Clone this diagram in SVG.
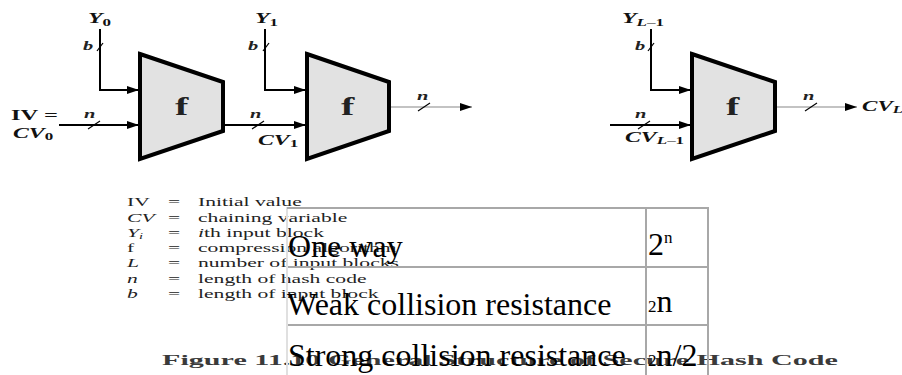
<svg xmlns="http://www.w3.org/2000/svg" width="902" height="375" viewBox="0 0 902 375">
<style>
  .blk { fill: #e2e2e2; stroke: #000; stroke-width: 4; stroke-linejoin: miter; }
  .wire { fill: none; stroke: #000; stroke-width: 2; }
  .wire-out { fill: none; stroke: #888; stroke-width: 1.2; }
  .tick { stroke: #000; stroke-width: 1.2; }
  .lbl { font-family: "Liberation Serif", serif; font-weight: bold; font-style: italic; font-size: 14px; fill: #111; }
  .up { font-style: normal; }
  .fl { font-family: "Liberation Serif", serif; font-weight: bold; font-size: 25px; fill: #222; }
  .sm { font-size: 10px; }
  .nb { font-family: "Liberation Serif", serif; font-weight: bold; font-style: italic; font-size: 12px; fill: #222; }
  .leg { font-family: "Liberation Serif", serif; font-size: 12px; fill: #222; }
  .it { font-style: italic; }
  .cap { font-family: "Liberation Serif", serif; font-weight: bold; font-size: 15px; fill: #3a3a3a; }
  .tb { font-family: "Liberation Serif", serif; font-size: 32px; fill: #000; }
  .tline { stroke: #a8a8a8; stroke-width: 2; fill: none; }
</style>
<defs>
  <marker id="ah" markerUnits="userSpaceOnUse" markerWidth="12" markerHeight="8" refX="12" refY="4" orient="auto">
    <path d="M0,0 L12,4 L0,8 z" fill="#000"/>
  </marker>
</defs>

<g id="connectors">
  <path class="wire" d="M100,29 V90 H139" marker-end="url(#ah)"/>
  <path class="wire" d="M59,125 H139" marker-end="url(#ah)"/>
  <path class="wire" d="M223,125 H306" marker-end="url(#ah)"/>
  <path class="wire" d="M265,29 V90 H306" marker-end="url(#ah)"/>
  <path class="wire-out" d="M389,107 H472" marker-end="url(#ah)"/>
  <path class="wire" d="M651,29 V90 H691" marker-end="url(#ah)"/>
  <path class="wire" d="M610,125 H691" marker-end="url(#ah)"/>
  <path class="wire-out" d="M775,107 H857" marker-end="url(#ah)"/>
  <line class="tick" x1="97" y1="51" x2="103" y2="43"/>
  <line class="tick" x1="263" y1="51" x2="269" y2="43"/>
  <line class="tick" x1="648" y1="51" x2="654" y2="43"/>
  <line class="tick" x1="88" y1="129" x2="100" y2="121"/>
  <line class="tick" x1="252" y1="129" x2="264" y2="121"/>
  <line class="tick" x1="418" y1="111" x2="430" y2="103"/>
  <line class="tick" x1="638" y1="129" x2="650" y2="121"/>
  <line class="tick" x1="805" y1="111" x2="817" y2="103"/>
  <text class="nb" transform="translate(83 50) scale(1.7 1)">b</text>
  <text class="nb" transform="translate(248 50) scale(1.7 1)">b</text>
  <text class="nb" transform="translate(635 50) scale(1.7 1)">b</text>
  <text class="nb" transform="translate(84 118) scale(1.7 1)">n</text>
  <text class="nb" transform="translate(250 118) scale(1.7 1)">n</text>
  <text class="nb" transform="translate(417 100) scale(1.7 1)">n</text>
  <text class="nb" transform="translate(635 118) scale(1.7 1)">n</text>
  <text class="nb" transform="translate(803 100) scale(1.7 1)">n</text>
</g>

<g id="input-Y0">
  <text class="lbl" transform="translate(88 23) scale(1.7 1)">Y<tspan class="sm up" dy="3">0</tspan></text>
</g>
<g id="input-Y1">
  <text class="lbl" transform="translate(255 23) scale(1.7 1)">Y<tspan class="sm up" dy="3">1</tspan></text>
</g>
<g id="input-YL1">
  <text class="lbl" transform="translate(622 23) scale(1.7 1)">Y<tspan class="sm" dy="3">L</tspan><tspan class="sm up">–1</tspan></text>
</g>
<g id="iv">
  <text class="lbl up" font-size="12.5" transform="translate(11 120) scale(1.75 1)">IV =</text>
  <text class="lbl" transform="translate(13 138) scale(1.7 1)">CV<tspan class="sm up" dy="2">0</tspan></text>
</g>

<g id="f1">
  <polygon class="blk" points="140,54 223,82 223,131 140,159"/>
  <text class="fl" transform="translate(175 115) scale(1.6 1)">f</text>
</g>
<g id="cv1">
  <text class="lbl" transform="translate(258 145) scale(1.7 1)">CV<tspan class="sm up" dy="2">1</tspan></text>
</g>
<g id="f2">
  <polygon class="blk" points="307,54 389,82 389,131 307,159"/>
  <text class="fl" transform="translate(341 115) scale(1.6 1)">f</text>
</g>
<g id="cvl1">
  <text class="lbl" transform="translate(625 142) scale(1.7 1)">CV<tspan class="sm" dy="2">L</tspan><tspan class="sm up">–1</tspan></text>
</g>
<g id="f3">
  <polygon class="blk" points="692,54 775,82 775,131 692,159"/>
  <text class="fl" transform="translate(726 115) scale(1.6 1)">f</text>
</g>
<g id="cvl">
  <text class="lbl" transform="translate(862 111) scale(1.65 1)">CV<tspan class="sm" dy="2">L</tspan></text>
</g>

<g id="legend">
  <text class="leg" transform="translate(127 206) scale(1.8 1)">IV</text>
  <text class="leg it" transform="translate(127 222) scale(1.8 1)">CV</text>
  <text class="leg it" transform="translate(127 237) scale(1.8 1)">Y<tspan font-size="8" dy="2">i</tspan></text>
  <text class="leg" transform="translate(127 252) scale(1.8 1)">f</text>
  <text class="leg it" transform="translate(127 267) scale(1.8 1)">L</text>
  <text class="leg it" transform="translate(127 283) scale(1.8 1)">n</text>
  <text class="leg it" transform="translate(127 298) scale(1.8 1)">b</text>
  <text class="leg" transform="translate(168 206) scale(1.8 1)">=</text>
  <text class="leg" transform="translate(168 222) scale(1.8 1)">=</text>
  <text class="leg" transform="translate(168 237) scale(1.8 1)">=</text>
  <text class="leg" transform="translate(168 252) scale(1.8 1)">=</text>
  <text class="leg" transform="translate(168 267) scale(1.8 1)">=</text>
  <text class="leg" transform="translate(168 283) scale(1.8 1)">=</text>
  <text class="leg" transform="translate(168 298) scale(1.8 1)">=</text>
  <text class="leg" transform="translate(198 206) scale(1.8 1)">Initial value</text>
  <text class="leg" transform="translate(198 222) scale(1.8 1)">chaining variable</text>
  <text class="leg" transform="translate(198 237) scale(1.8 1)"><tspan class="it">i</tspan>th input block</text>
  <text class="leg" transform="translate(198 252) scale(1.8 1)">compression algorithm</text>
  <text class="leg" transform="translate(198 267) scale(1.8 1)">number of input blocks</text>
  <text class="leg" transform="translate(198 283) scale(1.8 1)">length of hash code</text>
  <text class="leg" transform="translate(198 298) scale(1.8 1)">length of input block</text>
</g>

<g id="caption">
  <text class="cap" x="162" y="365" textLength="676" lengthAdjust="spacingAndGlyphs">Figure 11.10 General Structure of Secure Hash Code</text>
</g>

<g id="table">
  <line x1="287" y1="207" x2="287" y2="375" stroke="#e0e0e0" stroke-width="2"/>
  <line class="tline" x1="287" y1="208" x2="709" y2="208"/>
  <line class="tline" x1="288" y1="267" x2="709" y2="267"/>
  <line class="tline" x1="288" y1="325" x2="709" y2="325"/>
  <line class="tline" x1="646" y1="208" x2="646" y2="375"/>
  <line class="tline" x1="708" y1="207" x2="708" y2="375"/>
  <text class="tb" x="288" y="257">One way</text>
  <text class="tb" x="287" y="315">Weak collision resistance</text>
  <text class="tb" x="288" y="366">Strong collision resistance</text>
  <text class="tb" x="648" y="255">2<tspan font-size="17" dy="-12">n</tspan></text>
  <text class="tb" x="648" y="312"><tspan font-size="17">2</tspan>n</text>
  <text class="tb" x="648" y="366"><tspan font-size="17">2</tspan>n/2</text>
</g>
</svg>
